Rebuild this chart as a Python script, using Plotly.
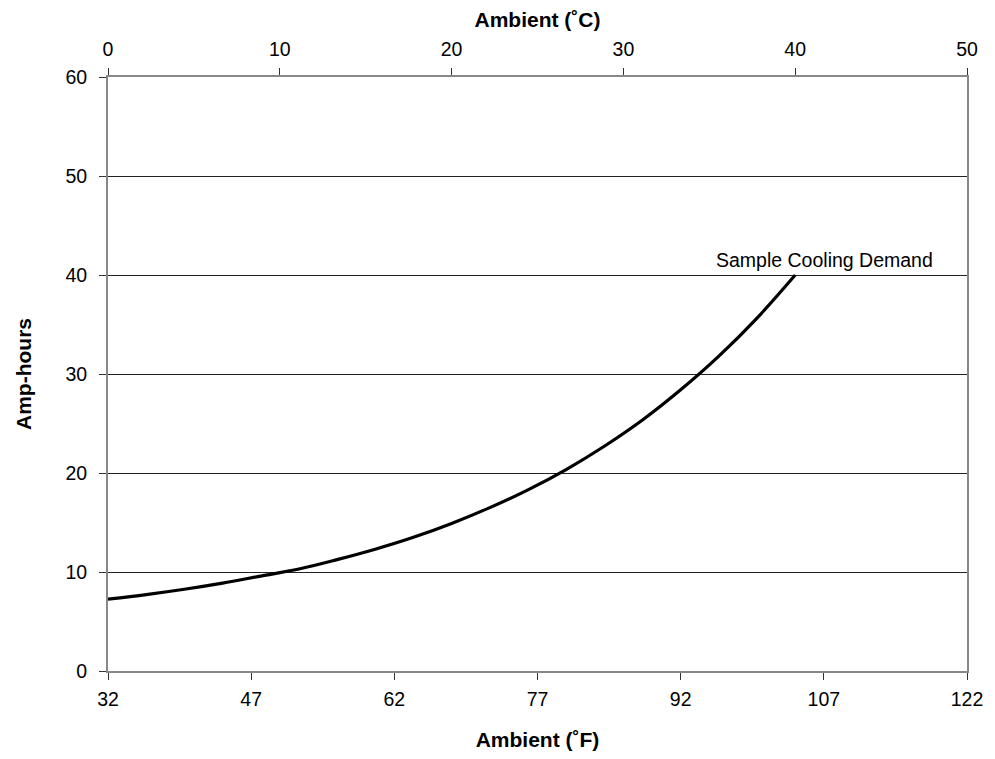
import plotly.graph_objects as go

# Data
temp_f = [32, 36, 40, 44, 48, 52, 56, 60, 64, 68, 72, 76, 80, 84, 88, 92, 96, 100, 104]
amp_hours = [7.25, 7.72, 8.26, 8.88, 9.59, 10.3, 11.25, 12.3, 13.5, 14.9, 16.5, 18.3, 20.35, 22.7, 25.35, 28.4, 31.8, 35.65, 40.0]
f_ticks = [32, 47, 62, 77, 92, 107, 122]
c_ticks = [0, 10, 20, 30, 40, 50]
y_ticks = [0, 10, 20, 30, 40, 50, 60]
series_label = "Sample Cooling Demand"

font_family = "Liberation Sans, Arial, Helvetica, sans-serif"
axis_gray = "#888888"
tick_size = 19.5
title_size = 21

fig = go.Figure()
fig.add_trace(go.Scatter(
    x=temp_f, y=amp_hours, mode="lines",
    line=dict(color="black", width=3.2, shape="spline"),
    showlegend=False, hoverinfo="skip",
))
# invisible trace to activate top axis
fig.add_trace(go.Scatter(x=[c_ticks[0], c_ticks[-1]], y=[None, None], xaxis="x2",
                         mode="markers", showlegend=False, hoverinfo="skip"))

fig.add_annotation(x=temp_f[-1], y=amp_hours[-1], text=series_label, showarrow=False,
                   xanchor="center", yanchor="bottom", xshift=29, yshift=2,
                   font=dict(family=font_family, size=tick_size, color="black"))

fig.update_layout(
    width=995, height=759,
    margin=dict(l=100, r=36, t=69, b=96),
    paper_bgcolor="white", plot_bgcolor="white",
    font=dict(family=font_family, size=tick_size, color="black"),
    xaxis=dict(
        range=[f_ticks[0], f_ticks[-1]], tickvals=f_ticks, automargin=False,
        ticks="outside", ticklen=7, tickcolor="#333333", tickwidth=1,
        ticklabelstandoff=3,
        showline=True, linecolor=axis_gray, linewidth=2, mirror=False,
        showgrid=False, zeroline=False,
        title=dict(text="<b>Ambient (˚F)</b>", standoff=23, font=dict(size=title_size)),
    ),
    xaxis2=dict(
        range=[c_ticks[0], c_ticks[-1]], tickvals=c_ticks, overlaying="x", side="top",
        automargin=False,
        ticks="outside", ticklen=7, tickcolor="#333333", tickwidth=1,
        ticklabelstandoff=4,
        showline=True, linecolor=axis_gray, linewidth=2,
        showgrid=False, zeroline=False,
        title=dict(text="<b>Ambient (˚C)</b>", standoff=10, font=dict(size=title_size)),
    ),
    yaxis=dict(
        range=[y_ticks[0], y_ticks[-1]], tickvals=y_ticks, automargin=False,
        ticks="outside", ticklen=7, tickcolor="#333333", tickwidth=1,
        ticklabelstandoff=8,
        showline=True, linecolor=axis_gray, linewidth=2, mirror=True,
        showgrid=True, gridcolor="#222222", gridwidth=1, zeroline=False,
        title=dict(text="<b>Amp-hours</b>", standoff=28, font=dict(size=title_size)),
    ),
)

fig.write_html("out.html")
